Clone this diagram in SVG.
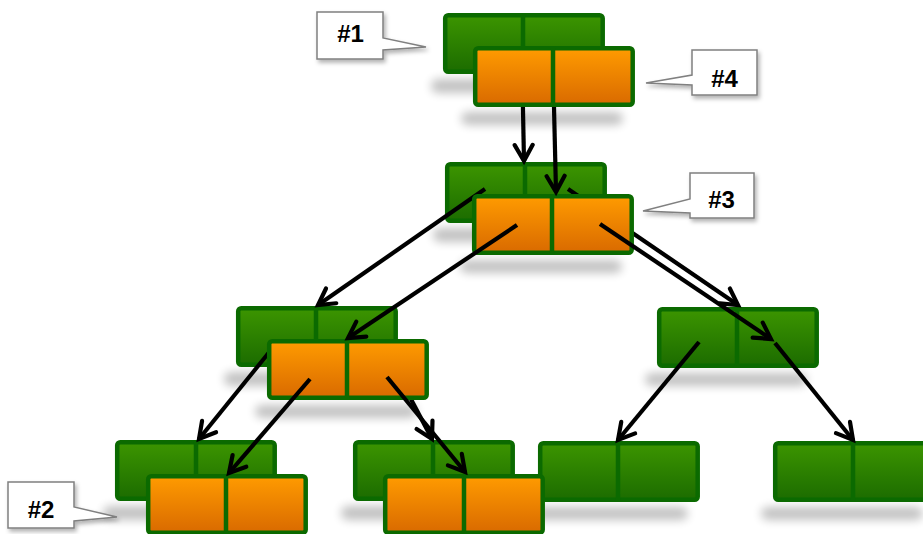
<svg xmlns="http://www.w3.org/2000/svg" width="923" height="534" viewBox="0 0 923 534">
  <style>
    .node rect.box { stroke: #0b6a00; stroke-width: 4.5; }
    .node line.div { stroke: #0b6a00; stroke-width: 4.5; }
    .green rect.box { fill: url(#gGreen); }
    .orange rect.box { fill: url(#gOrange); }
    .shadow { fill: #000; opacity: 0.24; filter: url(#blur); }
    .edge { stroke: #000; stroke-width: 4.2; fill: none; stroke-linecap: butt; marker-end: url(#arrow); }
    .callout path { fill: #fff; stroke: #808080; stroke-width: 1.5; filter: url(#drop); }
    .callout text { font-family: "Liberation Sans", Arial, sans-serif; font-weight: bold; font-size: 24px; fill: #000; text-anchor: middle; }
  </style>
  <defs>
    <linearGradient id="gGreen" x1="0" y1="0" x2="0" y2="1">
      <stop offset="0" stop-color="#3c9500"/>
      <stop offset="1" stop-color="#1c6c00"/>
    </linearGradient>
    <linearGradient id="gOrange" x1="0" y1="0" x2="0" y2="1">
      <stop offset="0" stop-color="#ff9b00"/>
      <stop offset="1" stop-color="#d96a00"/>
    </linearGradient>
    <filter id="blur" x="-20%" y="-150%" width="140%" height="400%">
      <feGaussianBlur stdDeviation="5"/>
    </filter>
    <filter id="drop" x="-20%" y="-20%" width="150%" height="160%">
      <feDropShadow dx="2" dy="3" stdDeviation="2" flood-color="#000" flood-opacity="0.3"/>
    </filter>
    <marker id="arrow" viewBox="-20 -12 26 24" markerWidth="26" markerHeight="24" refX="0" refY="0" orient="auto" markerUnits="userSpaceOnUse">
      <path d="M-16,-9 L0,0 L-16,9" fill="none" stroke="#000" stroke-width="4.2" stroke-linejoin="miter" stroke-linecap="round"/>
    </marker>
  </defs>

  <!-- soft shadows under the blocks -->
  <g id="shadows">
    <rect class="shadow" x="431" y="79" width="150" height="14" rx="7"/>
    <rect class="shadow" x="461" y="112" width="162" height="13" rx="7"/>
    <rect class="shadow" x="433" y="228" width="150" height="14" rx="7"/>
    <rect class="shadow" x="460" y="260" width="162" height="13" rx="7"/>
    <rect class="shadow" x="224" y="372" width="150" height="14" rx="7"/>
    <rect class="shadow" x="255" y="405" width="162" height="13" rx="7"/>
    <rect class="shadow" x="645" y="373" width="162" height="13" rx="7"/>
    <rect class="shadow" x="103" y="506" width="150" height="14" rx="7"/>
    <rect class="shadow" x="341" y="506" width="150" height="14" rx="7"/>
    <rect class="shadow" x="526" y="507" width="162" height="13" rx="7"/>
    <rect class="shadow" x="761" y="507" width="162" height="13" rx="7"/>
  </g>

  <!-- green blocks -->
  <g id="g1" class="node green">
    <rect class="box" x="445.2" y="15.2" width="157.5" height="56.5" rx="3"/>
    <line class="div" x1="523" y1="15" x2="523" y2="72"/>
  </g>
  <g id="g2" class="node green">
    <rect class="box" x="447.2" y="164.2" width="157.5" height="56.5" rx="3"/>
    <line class="div" x1="525" y1="164" x2="525" y2="221"/>
  </g>
  <g id="g3" class="node green">
    <rect class="box" x="238.2" y="308.2" width="157.5" height="56.5" rx="3"/>
    <line class="div" x1="316" y1="308" x2="316" y2="365"/>
  </g>
  <g id="g4" class="node green">
    <rect class="box" x="659.2" y="309.2" width="157.5" height="56.5" rx="3"/>
    <line class="div" x1="737" y1="309" x2="737" y2="366"/>
  </g>
  <g id="g5" class="node green">
    <rect class="box" x="117.2" y="442.2" width="157.5" height="56.5" rx="3"/>
    <line class="div" x1="196" y1="442" x2="196" y2="499"/>
  </g>
  <g id="g6" class="node green">
    <rect class="box" x="355.2" y="442.2" width="157.5" height="56.5" rx="3"/>
    <line class="div" x1="433" y1="442" x2="433" y2="499"/>
  </g>
  <g id="g7" class="node green">
    <rect class="box" x="540.2" y="443.2" width="157.5" height="56.5" rx="3"/>
    <line class="div" x1="618" y1="443" x2="618" y2="500"/>
  </g>
  <g id="g8" class="node green">
    <rect class="box" x="775.2" y="443.2" width="157.5" height="56.5" rx="3"/>
    <line class="div" x1="853" y1="443" x2="853" y2="500"/>
  </g>

  <!-- links leaving the green blocks (pass under the orange blocks) -->
  <g id="connectors-green">
    <line class="edge" x1="522" y1="60" x2="524" y2="161"/>
    <line class="edge" x1="485" y1="189" x2="318" y2="305"/>
    <line class="edge" x1="568" y1="189" x2="738" y2="305"/>
    <line class="edge" x1="275" y1="345" x2="199" y2="439"/>
    <line class="edge" x1="385" y1="350" x2="432" y2="439"/>
    <line class="edge" x1="699" y1="342" x2="618" y2="440"/>
    <line class="edge" x1="775" y1="343" x2="853" y2="440"/>
  </g>

  <!-- orange blocks -->
  <g id="o1" class="node orange">
    <rect class="box" x="475.2" y="48.2" width="157.5" height="56.5" rx="3"/>
    <line class="div" x1="553" y1="48" x2="553" y2="105"/>
  </g>
  <g id="o2" class="node orange">
    <rect class="box" x="474.2" y="196.2" width="157.5" height="56.5" rx="3"/>
    <line class="div" x1="552" y1="196" x2="552" y2="253"/>
  </g>
  <g id="o3" class="node orange">
    <rect class="box" x="269.2" y="341.2" width="157.5" height="56.5" rx="3"/>
    <line class="div" x1="347" y1="341" x2="347" y2="398"/>
  </g>
  <g id="o5" class="node orange">
    <rect class="box" x="148.2" y="476.2" width="157.5" height="56.5" rx="3"/>
    <line class="div" x1="226" y1="476" x2="226" y2="533"/>
  </g>
  <g id="o6" class="node orange">
    <rect class="box" x="385.2" y="476.2" width="157.5" height="56.5" rx="3"/>
    <line class="div" x1="464" y1="476" x2="464" y2="533"/>
  </g>

  <!-- links leaving the orange blocks -->
  <g id="connectors-orange">
    <line class="edge" x1="554" y1="107" x2="556" y2="192"/>
    <line class="edge" x1="517" y1="225" x2="348" y2="338"/>
    <line class="edge" x1="600" y1="224" x2="771" y2="339"/>
    <line class="edge" x1="310" y1="379" x2="229" y2="473"/>
    <line class="edge" x1="387" y1="377" x2="465" y2="472"/>
  </g>

  <!-- callout labels -->
  <g id="label1" class="callout">
    <path d="M317,12 H383 V38 L426,47 L383,50 V59 H317 Z"/>
    <text x="350.5" y="42">#1</text>
  </g>
  <g id="label4" class="callout">
    <path d="M692,50 H757 V95 H692 V85 L646,83 L692,75 Z"/>
    <text x="724.5" y="87">#4</text>
  </g>
  <g id="label3" class="callout">
    <path d="M690,173 H754 V218 H690 V213 L643,211 L690,199 Z"/>
    <text x="721.5" y="208">#3</text>
  </g>
  <g id="label2" class="callout">
    <path d="M8,482 H74 V507 L117,517 L74,521 V528 H8 Z"/>
    <text x="41" y="518">#2</text>
  </g>
</svg>
